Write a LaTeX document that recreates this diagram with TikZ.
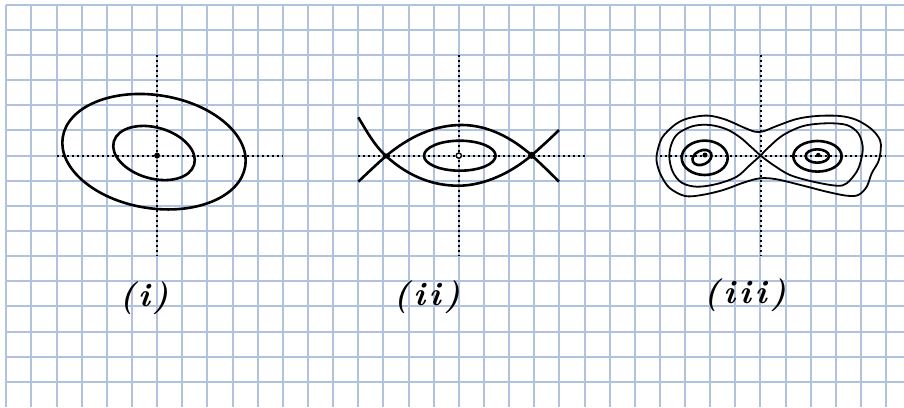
\documentclass[tikz,border=0pt]{standalone}
\definecolor{gridblue}{RGB}{176,194,222}
\begin{document}
\begin{tikzpicture}[x=1pt,y=-1pt,
  gridline/.style={gridblue,line width=1.5pt},
  axisline/.style={black,line width=2pt,dash pattern=on 2pt off 3pt},
  thickcurve/.style={black,line width=2.6pt},
  thincurve/.style={black,line width=1.8pt},
  labeltext/.style={inner sep=0pt,font=\fontsize{33}{35}\selectfont\bfseries\itshape}]
\useasboundingbox (0,0) rectangle (904,407);
\fill[white] (0,0) rectangle (904,407);
% grid
\foreach \k in {0,...,35}{
  \pgfmathsetmacro{\xx}{round(6.3+25.14*\k)}
  \draw[gridline] (\xx,5) -- (\xx,407);
}
\foreach \k in {0,...,15}{
  \pgfmathsetmacro{\yy}{round(4.7+25.14*\k)}
  \draw[gridline] (6,\yy) -- (904,\yy);
}
% axes
\foreach \c in {6,18,30}{
  \draw[axisline] ({6.3+25.14*\c},{4.7+25.14*2}) -- ({6.3+25.14*\c},{4.7+25.14*10});
  \draw[axisline] ({6.3+25.14*(\c-4)},{4.7+25.14*6}) -- ({6.3+25.14*(\c+5)},{4.7+25.14*6});
}
% (i)
\draw[thickcurve, rotate around={-9:(154,151.7)}] (154,151.7) ellipse [x radius=92.4, y radius=56.6];
\draw[thickcurve, rotate around={-16:(154,153)}] (154,153) ellipse [x radius=41.8, y radius=25.5];
\fill (157.1,155.6) circle [radius=3];
% (ii)
\draw[thickcurve] (358.3,181.7) .. controls (368,172.5) and (377,164) .. (386,156)
  .. controls (410,136) and (435,125) .. (461.7,125)
  .. controls (488,125) and (512,138) .. (531.7,155.3)
  .. controls (541,164) and (550,172.5) .. (559,181.7);
\draw[thickcurve] (358.3,117.3) .. controls (366,130) and (374,145) .. (386,156)
  .. controls (410,178) and (435,185.7) .. (458.3,185.7)
  .. controls (485,185.7) and (512,172) .. (531.7,155.3)
  .. controls (541,147) and (550,139) .. (559,130);
\draw[thickcurve] (459.8,155.7) ellipse [x radius=35.8, y radius=15];
\draw[black,line width=1.4pt,fill=white] (458.8,155.6) circle [radius=2.6];
\fill (386,156) circle [radius=2.6];
\fill (531.7,155.3) circle [radius=3.6];
% (iii)
\draw[thincurve] plot[smooth cycle, tension=0.55] coordinates {
 (656.7,155) (661.7,138.3) (673.3,126) (685,119.3) (700,116) (711.7,116) (726.7,120)
 (743.3,127.3) (755,131.7) (763.3,131.3) (776.7,126) (796.7,119) (816.7,116) (840,116)
 (856.7,120) (871.7,129.3) (880,140) (880.7,150) (878.3,161.7) (871.7,173.3) (866.7,186.7)
 (858.3,195) (846.7,195.7) (826.7,191.7) (803.3,185.7) (776.7,179.3) (760,178.3)
 (743.3,182.7) (723.3,190) (701.7,195) (685,196) (670,188.3) (661.7,176.7) (657.3,165)};
\draw[thincurve] plot[smooth, tension=0.55] coordinates {
 (760.5,155.6) (750,146) (740,137.3) (726.7,129.3) (710,125) (693.3,126) (678.3,133.3)
 (671.7,143.3) (669.3,156.7) (672.7,171.7) (681.7,182.7) (696.7,186.7) (716.7,184)
 (736.7,176.7) (750,165) (760.5,155.6)};
\draw[thincurve] plot[smooth, tension=0.55] coordinates {
 (760.5,155.6) (770,146) (783.3,135) (803.3,126) (826.7,123.3) (846.7,125) (858.3,133.3)
 (862.7,146.7) (861,160) (856.7,171.7) (846.7,183.3) (836.7,185.7) (813.3,181.7)
 (790,175) (773.3,165) (760.5,155.6)};
\draw[thickcurve] (704.7,157.8) ellipse [x radius=23, y radius=17.2];
\draw[thickcurve, rotate around={25:(702,157.5)}] (702,157.5) ellipse [x radius=10, y radius=7];
\draw[thickcurve] (817.5,156.3) ellipse [x radius=24.2, y radius=15.3];
\draw[thickcurve] (817.3,156) ellipse [x radius=11.7, y radius=6.7];
\fill (705,155) circle [radius=2.5];
\fill (818.3,155) circle [radius=2.2];
% labels
\node[labeltext] (lab1) at (144,298) {(\kern3pt i\kern3pt)};
\node[labeltext] (lab2) at (427,297) {(\kern4pt i\kern4pt i\kern4pt)};
\node[labeltext] (lab3) at (745,295) {(\kern4pt i\kern4pt i\kern4pt i\kern4pt)};
\end{tikzpicture}
\end{document}
